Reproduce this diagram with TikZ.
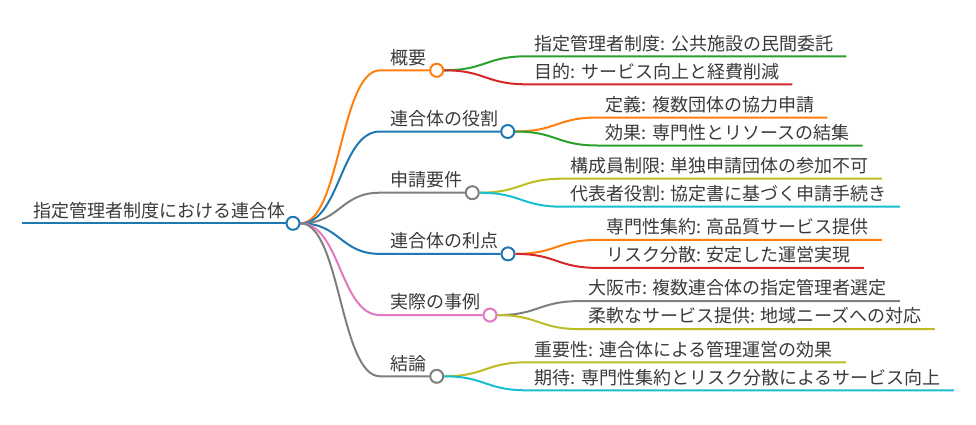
\documentclass[tikz,border=0pt]{standalone}
\usepackage{fontspec}
\setmainfont{Noto Sans CJK JP}
\usetikzlibrary{calc}

\definecolor{mmblue}{HTML}{1F77B4}
\definecolor{mmorange}{HTML}{FF7F0E}
\definecolor{mmgreen}{HTML}{2CA02C}
\definecolor{mmred}{HTML}{D62728}
\definecolor{mmgray}{HTML}{7F7F7F}
\definecolor{mmolive}{HTML}{BCBD22}
\definecolor{mmcyan}{HTML}{17BECF}
\definecolor{mmpink}{HTML}{E377C2}
\definecolor{mmtext}{HTML}{3A3A3A}

\tikzset{
  curvy/.style={to path={let \p1=(\tikztostart), \p2=(\tikztotarget) in
      .. controls ({(\x1+\x2)/2},\y1) and ({(\x1+\x2)/2},\y2) .. (\tikztotarget)}},
  link/.style={line width=2pt},
  dot/.style={circle, draw, fill=white, line width=2pt, minimum size=13pt, inner sep=0pt},
  lbl/.style={anchor=south west, text=mmtext, font=\fontsize{18}{21}\selectfont,
      inner xsep=8pt, inner ysep=4pt, text depth=2pt}
}

\begin{document}
\begin{tikzpicture}[x=1pt, y=-1pt]
            \useasboundingbox (0,0) rectangle (976,424);
            % root
            \node[lbl, inner xsep=11pt] (roottext) at (22,223.3) {指定管理者制度における連合体};
            \node[dot, draw=mmblue] (root) at (293,223.3) {};
            \draw[link, mmblue] (roottext.south west) -- (root.west);

            % branches
            \node[lbl, inner xsep=10pt] (bt1) at (380,70.3) {概要};
            \node[lbl, inner xsep=10pt] (bt2) at (380,131.5) {連合体の役割};
            \node[lbl, inner xsep=10pt] (bt3) at (380,192.7) {申請要件};
            \node[lbl, inner xsep=10pt] (bt4) at (380,253.9) {連合体の利点};
            \node[lbl, inner xsep=10pt] (bt5) at (380,315.1) {実際の事例};
            \node[lbl, inner xsep=10pt] (bt6) at (380,376.3) {結論};
            \node[dot, draw=mmorange] (b1) at (436.7,70.3) {};
            \node[dot, draw=mmblue] (b2) at (507.7,131.5) {};
            \node[dot, draw=mmgray] (b3) at (472.3,192.7) {};
            \node[dot, draw=mmblue] (b4) at (508,253.9) {};
            \node[dot, draw=mmpink] (b5) at (490,315.1) {};
            \node[dot, draw=mmgray] (b6) at (436.7,376.3) {};
            \draw[link, mmorange] (root.east) to[curvy] (bt1.south west) -- (b1.west);
            \draw[link, mmblue] (root.east) to[curvy] (bt2.south west) -- (b2.west);
            \draw[link, mmgray] (root.east) to[curvy] (bt3.south west) -- (b3.west);
            \draw[link, mmblue] (root.east) to[curvy] (bt4.south west) -- (b4.west);
            \draw[link, mmpink] (root.east) to[curvy] (bt5.south west) -- (b5.west);
            \draw[link, mmgray] (root.east) to[curvy] (bt6.south west) -- (b6.west);

            % leaves
            \node[lbl] (l11) at (526.7,56.3) {指定管理者制度: 公共施設の民間委託};
            \node[lbl] (l12) at (526.7,84.3) {目的: サービス向上と経費削減};
            \node[lbl] (l21) at (597.7,117.5) {定義: 複数団体の協力申請};
            \node[lbl] (l22) at (597.7,145.5) {効果: 専門性とリソースの結集};
            \node[lbl] (l31) at (562.3,178.7) {構成員制限: 単独申請団体の参加不可};
            \node[lbl] (l32) at (562.3,206.7) {代表者役割: 協定書に基づく申請手続き};
            \node[lbl] (l41) at (598,239.9) {専門性集約: 高品質サービス提供};
            \node[lbl] (l42) at (598,267.9) {リスク分散: 安定した運営実現};
            \node[lbl] (l51) at (580,301.1) {大阪市: 複数連合体の指定管理者選定};
            \node[lbl] (l52) at (580,329.1) {柔軟なサービス提供: 地域ニーズへの対応};
            \node[lbl] (l61) at (526.7,362.3) {重要性: 連合体による管理運営の効果};
            \node[lbl] (l62) at (526.7,390.3) {期待: 専門性集約とリスク分散によるサービス向上};
            \draw[link, mmgreen] (b1.east) to[curvy] (l11.south west) -- ([xshift=5pt]l11.south east);
            \draw[link, mmred] (b1.east) to[curvy] (l12.south west) -- ([xshift=5pt]l12.south east);
            \draw[link, mmorange] (b2.east) to[curvy] (l21.south west) -- ([xshift=5pt]l21.south east);
            \draw[link, mmgreen] (b2.east) to[curvy] (l22.south west) -- ([xshift=5pt]l22.south east);
            \draw[link, mmolive] (b3.east) to[curvy] (l31.south west) -- ([xshift=5pt]l31.south east);
            \draw[link, mmcyan] (b3.east) to[curvy] (l32.south west) -- ([xshift=5pt]l32.south east);
            \draw[link, mmorange] (b4.east) to[curvy] (l41.south west) -- ([xshift=5pt]l41.south east);
            \draw[link, mmred] (b4.east) to[curvy] (l42.south west) -- ([xshift=5pt]l42.south east);
            \draw[link, mmgray] (b5.east) to[curvy] (l51.south west) -- ([xshift=5pt]l51.south east);
            \draw[link, mmolive] (b5.east) to[curvy] (l52.south west) -- ([xshift=5pt]l52.south east);
            \draw[link, mmolive] (b6.east) to[curvy] (l61.south west) -- ([xshift=5pt]l61.south east);
            \draw[link, mmcyan] (b6.east) to[curvy] (l62.south west) -- ([xshift=5pt]l62.south east);
        \end{tikzpicture}
\end{document}
